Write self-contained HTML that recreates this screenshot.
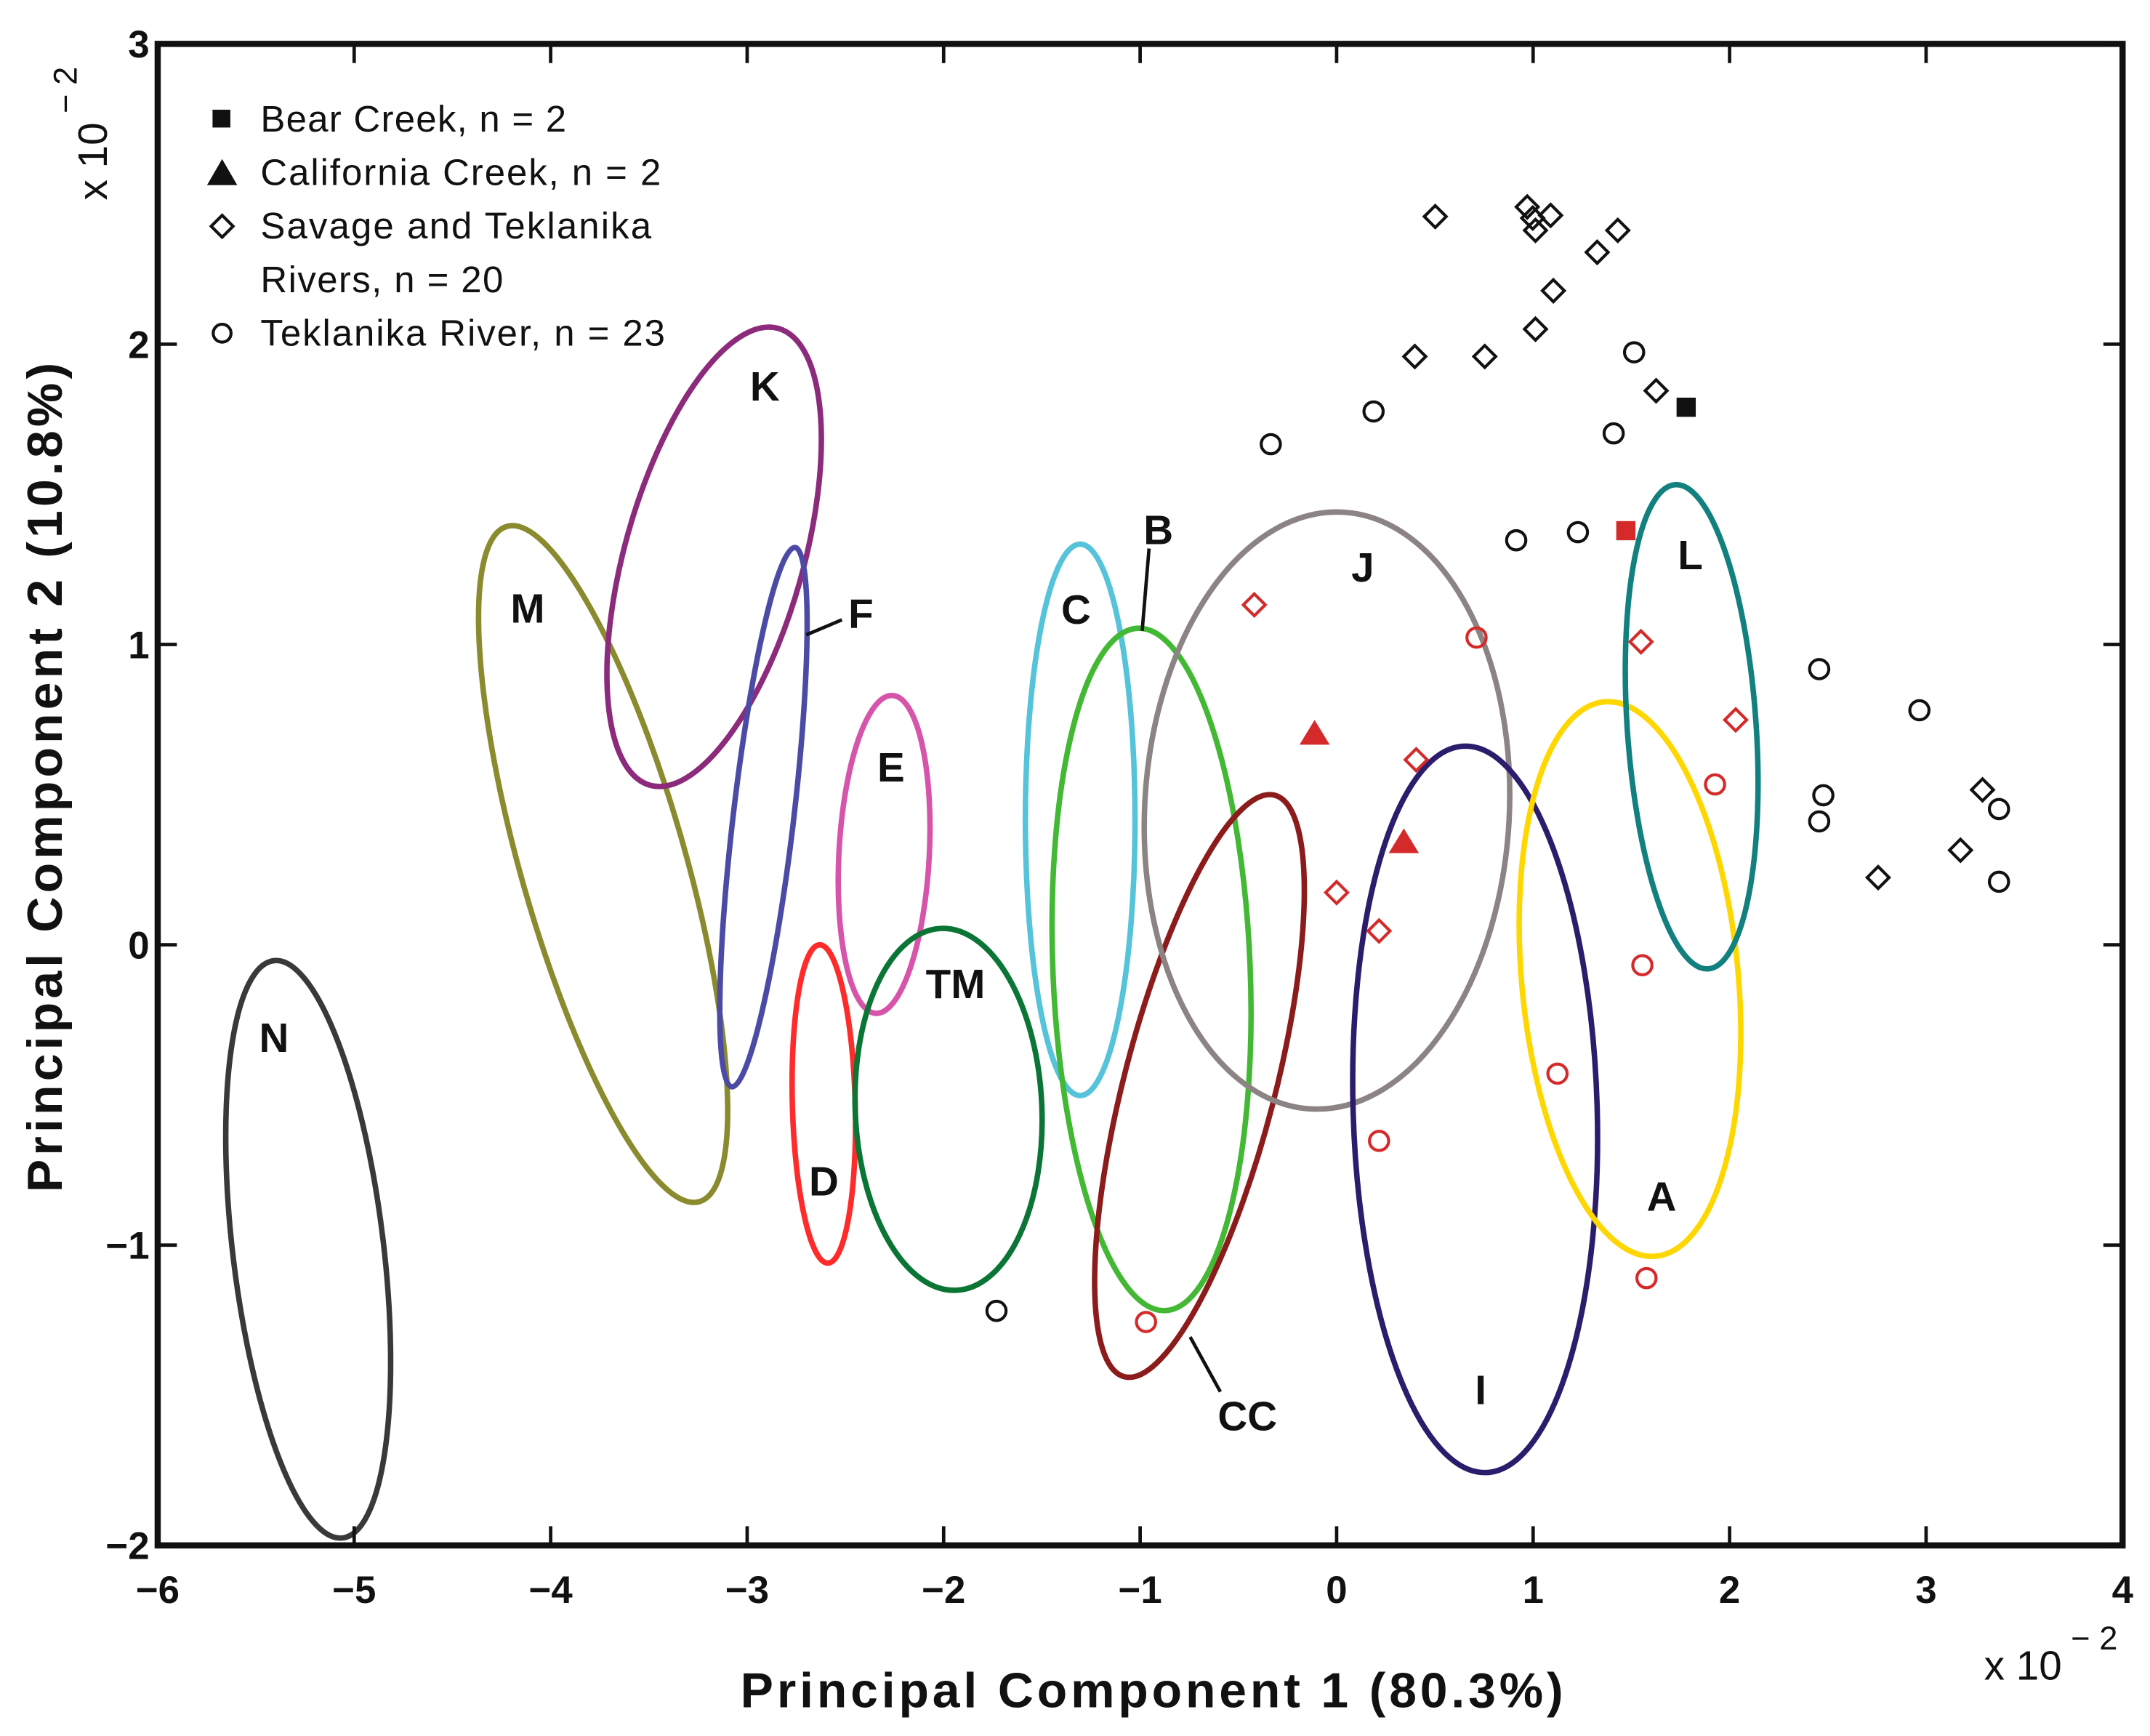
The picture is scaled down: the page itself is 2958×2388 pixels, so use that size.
<!DOCTYPE html>
<html><head><meta charset="utf-8"><style>html,body{margin:0;padding:0;background:#fff}svg{display:block}text{font-family:"Liberation Sans",sans-serif}</style></head>
<body>
<svg id="chart" width="2958" height="2388" viewBox="0 0 1568 1266" preserveAspectRatio="none" xmlns="http://www.w3.org/2000/svg">
<rect width="1568" height="1266" fill="#fff"/>
<g id="plot"></g>
</svg>
<script>
const xTicks=[-6,-5,-4,-3,-2,-1,0,1,2,3,4];
const yTicks=[-2,-1,0,1,2,3];
const xTickLabels=["\u22126","\u22125","\u22124","\u22123","\u22122","\u22121","0","1","2","3","4"];
const yTickLabels=["\u22122","\u22121","0","1","2","3"];
const diamondBlackX=[0.502,0.970,0.998,1.089,1.012,1.326,1.431,1.103,1.012,0.398,0.754,1.626,3.287,3.175,2.756];
const diamondBlackY=[2.425,2.457,2.420,2.429,2.379,2.306,2.379,2.178,2.050,1.959,1.959,1.845,0.516,0.315,0.224];
const diamondRedX=[-0.419,1.549,2.031,0.405,0.0,0.216];
const diamondRedY=[1.132,1.009,0.749,0.616,0.174,0.046];
const circleBlackX=[-0.335,0.188,1.514,1.410,0.914,1.228,2.456,2.966,2.477,2.456,3.371,3.371,-1.731];
const circleBlackY=[1.667,1.776,1.973,1.703,1.347,1.374,0.918,0.781,0.498,0.411,0.452,0.210,-1.219];
const circleRedX=[0.712,1.926,1.556,1.124,0.216,-0.970,1.577];
const circleRedY=[1.023,0.534,-0.068,-0.429,-0.653,-1.256,-1.110];
const squareX=[1.779,1.472];
const squareY=[1.790,1.379];
const squareColor=["#111","#d42a2a"];
const triX=[-0.112,0.342];
const triY=[0.703,0.342];
const ellNames=["N","M","K","F","E","D","TM","C","B","CC","J","I","A","L"];
const ellCX=[-5.234,-3.733,-3.168,-2.917,-2.303,-2.610,-1.975,-1.305,-0.942,-0.698,-0.049,0.705,1.493,1.807];
const ellCY=[-1.014,0.269,1.292,0.425,0.301,-0.530,-0.548,0.416,-0.082,-0.470,0.447,-0.548,-0.114,0.726];
const ellRX=[0.384,0.419,0.454,0.154,0.230,0.160,0.475,0.279,0.502,0.384,0.928,0.621,0.551,0.328];
const ellRY=[0.968,1.169,0.790,0.904,0.530,0.530,0.603,0.918,1.137,1.0,0.995,1.210,0.927,0.808];
const ellAngle=[-6.8,-15.9,15.7,6.7,3,-1.5,-2.4,0,-2.3,14.5,3,-1.7,-5.3,-3.9];
const ellColor=["#3b3838","#8a8a2e","#8c2a7c","#4b4ba6","#d654aa","#ff2a2a","#0b7535","#55c3d9","#43b834","#8c1c1c","#8c8484","#2c1c6c","#ffd700","#11807f"];
const labelText=["K","M","F","C","B","J","L","E","TM","N","D","A","I","CC"];
const labelX=[-2.910,-4.117,-2.421,-1.326,-0.907,0.133,1.800,-2.268,-1.940,-5.408,-2.610,1.654,0.733,-0.454];
const labelY=[1.863,1.123,1.105,1.119,1.384,1.260,1.301,0.594,-0.128,-0.306,-0.785,-0.836,-1.479,-1.566];

const L=115,R=1548,T=32,B=1127;
const sx=v=>L+(v+6)/10*(R-L);
const sy=v=>B-(v+2)/5*(B-T);
const ux=(R-L)/10, uy=(B-T)/5;
const NS="http://www.w3.org/2000/svg";
const g=document.getElementById('plot');
function mk(tag,attrs,parent){const e=document.createElementNS(NS,tag);for(const k in attrs)e.setAttribute(k,attrs[k]);(parent||g).appendChild(e);return e;}

ellNames.forEach((n,i)=>{
 const e=mk('ellipse',{cx:sx(ellCX[i]),cy:sy(ellCY[i]),rx:ellRX[i]*ux,ry:ellRY[i]*uy,fill:'none',stroke:ellColor[i],'stroke-width':4,transform:`rotate(${ellAngle[i]} ${sx(ellCX[i])} ${sy(ellCY[i])})`});
 
 
});
[[588,463,614,452],[838,400,833,460],[868,975,890,1015]].forEach((p,i)=>{
 const l=mk('line',{x1:p[0],y1:p[1],x2:p[2],y2:p[3],stroke:'#111','stroke-width':2.5});
 
 
});
labelText.forEach((t,i)=>{
 const e=mk('text',{x:sx(labelX[i]),y:sy(labelY[i])+11,'text-anchor':'middle','font-size':30,'font-weight':'bold',fill:'#111'});
 e.textContent=t;
 
 
});
function diamond(x,y,c){const e=mk('path',{d:`M${x} ${y-8}L${x+8} ${y}L${x} ${y+8}L${x-8} ${y}Z`,fill:'none',stroke:c,'stroke-width':2.2});return e;}
diamondBlackX.forEach((v,i)=>{const e=diamond(sx(v),sy(diamondBlackY[i]),'#111');});
diamondRedX.forEach((v,i)=>{const e=diamond(sx(v),sy(diamondRedY[i]),'#d42a2a');});
circleBlackX.forEach((v,i)=>{const e=mk('circle',{cx:sx(v),cy:sy(circleBlackY[i]),r:7,fill:'none',stroke:'#111','stroke-width':2.2});});
circleRedX.forEach((v,i)=>{const e=mk('circle',{cx:sx(v),cy:sy(circleRedY[i]),r:7,fill:'none',stroke:'#d42a2a','stroke-width':2.2});});
squareX.forEach((v,i)=>{const e=mk('rect',{x:sx(v)-7,y:sy(squareY[i])-7,width:14,height:14,fill:squareColor[i]});});
triX.forEach((v,i)=>{const x=sx(v),y=sy(triY[i]);const e=mk('path',{d:`M${x} ${y-10}L${x+11} ${y+8}L${x-11} ${y+8}Z`,fill:'#d42a2a'});});

const fr=mk('rect',{x:L,y:T,width:R-L,height:B-T,fill:'none',stroke:'#111','stroke-width':4.5});


xTicks.forEach((v,i)=>{
 const x=sx(v);
 const a=mk('line',{x1:x,y1:B,x2:x,y2:B-14,stroke:'#111','stroke-width':2.5});
 const b=mk('line',{x1:x,y1:T,x2:x,y2:T+14,stroke:'#111','stroke-width':2.5});
 const t=mk('text',{x:x,y:B+42,'text-anchor':'middle','font-size':28,'font-weight':'bold',fill:'#111'});t.textContent=xTickLabels[i];
 
});
yTicks.forEach((v,i)=>{
 const y=sy(v);
 const a=mk('line',{x1:L,y1:y,x2:L+14,y2:y,stroke:'#111','stroke-width':2.5});
 const b=mk('line',{x1:R,y1:y,x2:R-14,y2:y,stroke:'#111','stroke-width':2.5});
 const t=mk('text',{x:L-6,y:y+10,'text-anchor':'end','font-size':28,'font-weight':'bold',fill:'#111'});t.textContent=yTickLabels[i];
 
});
</script>
<svg style="position:absolute;left:0;top:0" width="2958" height="2388" viewBox="0 0 1568 1266" preserveAspectRatio="none" xmlns="http://www.w3.org/2000/svg">
<g font-size="27" fill="#111">
<rect x="155" y="80" width="13" height="13" fill="#111"/>
<text x="190" y="96" textLength="223">Bear Creek, n = 2</text>
<path d="M162 116L173 135L151 135Z" fill="#111"/>
<text x="190" y="135" textLength="292">California Creek, n = 2</text>
<path d="M162 157L170 165L162 173L154 165Z" fill="none" stroke="#111" stroke-width="2.2"/>
<text x="190" y="174" textLength="285">Savage and Teklanika</text>
<text x="190" y="213" textLength="177">Rivers, n = 20</text>
<circle cx="162" cy="243" r="6.5" fill="none" stroke="#111" stroke-width="2.2"/>
<text x="190" y="252" textLength="295">Teklanika River, n = 23</text>
</g>
<text x="840" y="1245" text-anchor="middle" font-size="36" font-weight="bold" fill="#111" textLength="600">Principal Component 1 (80.3%)</text>
<text transform="translate(45 567) rotate(-90)" text-anchor="middle" font-size="36" font-weight="bold" fill="#111" textLength="605">Principal Component 2 (10.8%)</text>
<text transform="translate(78 146) rotate(-90)" font-size="30" fill="#111">x 10<tspan dy="-22" font-size="24"> − 2</tspan></text>
<text x="1447" y="1225" font-size="30" fill="#111">x 10<tspan dy="-22" font-size="24"> − 2</tspan></text>
</svg>
</body></html>
